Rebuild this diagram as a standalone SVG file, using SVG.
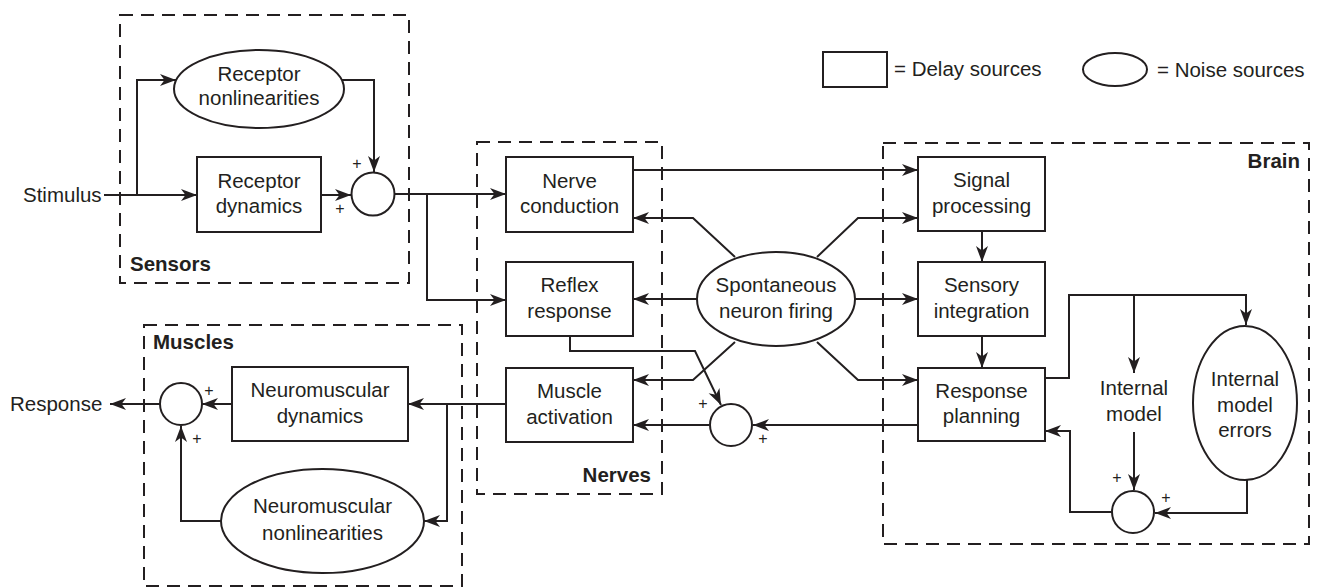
<svg xmlns="http://www.w3.org/2000/svg" width="1319" height="588" viewBox="0 0 1319 588">
<style>
.bg{fill:#ffffff}
.n{fill:#ffffff;stroke:#231f20;stroke-width:2}
.grp{fill:none;stroke:#231f20;stroke-width:2;stroke-dasharray:13 8}
.c{fill:none;stroke:#231f20;stroke-width:2}
.a{marker-end:url(#arr)}
text{font-family:"Liberation Sans",Arial,sans-serif;fill:#231f20}
.t{font-size:20.5px;text-anchor:middle}
.l{font-size:20.5px}
.b{font-size:20.5px;font-weight:bold}
.p{font-size:16px;text-anchor:middle}
</style>
<defs>
<marker id="arr" markerUnits="userSpaceOnUse" markerWidth="18" markerHeight="13" refX="16" refY="6" orient="auto">
<path d="M0,0 L16,6 L0,12 L4.5,6 Z" fill="#231f20"/>
</marker>
</defs>
<rect class="bg" x="0" y="0" width="1319" height="588"/>

<g id="groups">
<rect class="grp" x="120" y="15" width="289" height="268"/>
<rect class="grp" x="477" y="142" width="185" height="352"/>
<rect class="grp" x="144" y="325" width="318" height="261"/>
<rect class="grp" x="883" y="143" width="426" height="401"/>
<text class="b" x="130" y="271">Sensors</text>
<text class="b" x="651" y="482" text-anchor="end">Nerves</text>
<text class="b" x="153" y="349">Muscles</text>
<text class="b" x="1300" y="168" text-anchor="end">Brain</text>
</g>

<g id="legend">
<rect class="n" x="823" y="52" width="64" height="35"/>
<text class="l" x="894" y="76">= Delay sources</text>
<ellipse class="n" cx="1115" cy="69.5" rx="32" ry="16.5"/>
<text class="l" x="1157" y="77">= Noise sources</text>
</g>

<g id="connectors">
<path class="c a" d="M104,195 H197"/>
<path class="c a" d="M137,195 V80 H176"/>
<path class="c a" d="M321,195 H351"/>
<path class="c a" d="M342,80 H374 V172"/>
<path class="c a" d="M395,194 H506"/>
<path class="c a" d="M427,194 V300 H506"/>
<path class="c a" d="M633,170 H918"/>
<path class="c a" d="M735,257 L693,218 H633"/>
<path class="c a" d="M697,299 H633"/>
<path class="c a" d="M735,342 L693,380 H633"/>
<path class="c a" d="M817,257 L858,218 H918"/>
<path class="c a" d="M855,299 H918"/>
<path class="c a" d="M817,342 L858,380 H918"/>
<path class="c a" d="M570,336 V351 H695 L721,405"/>
<path class="c a" d="M918,425 H753"/>
<path class="c a" d="M709,425 H633"/>
<path class="c a" d="M506,404 H408"/>
<path class="c a" d="M447,404 V521 H424"/>
<path class="c a" d="M232,404 H202"/>
<path class="c a" d="M160,404 H110"/>
<path class="c a" d="M221,521 H181 V426"/>
<path class="c a" d="M982,231 V262"/>
<path class="c a" d="M982,336 V368"/>
<path class="c a" d="M1045,378 H1069 V295 H1246 V325"/>
<path class="c a" d="M1134,295 V373"/>
<path class="c a" d="M1134,432 V490"/>
<path class="c a" d="M1247,480 V513 H1155"/>
<path class="c a" d="M1112,512 H1070 V431 H1045"/>
</g>

<g id="stimulus"><text class="l" x="23" y="202">Stimulus</text></g>
<g id="response"><text class="l" x="10" y="411">Response</text></g>

<g id="receptor-nonlinearities">
<ellipse class="n" cx="259" cy="89" rx="85" ry="39"/>
<text class="t" x="259" y="81">Receptor</text>
<text class="t" x="259" y="105">nonlinearities</text>
</g>
<g id="receptor-dynamics">
<rect class="n" x="197" y="157" width="124" height="75"/>
<text class="t" x="259" y="188">Receptor</text>
<text class="t" x="259" y="213">dynamics</text>
</g>
<g id="sum-sensors">
<circle class="n" cx="373" cy="194" r="21.5"/>
<text class="p" x="357" y="169">+</text>
<text class="p" x="340" y="214">+</text>
</g>

<g id="nerve-conduction">
<rect class="n" x="506" y="157" width="127" height="75"/>
<text class="t" x="569.5" y="187.5">Nerve</text>
<text class="t" x="569.5" y="213">conduction</text>
</g>
<g id="reflex-response">
<rect class="n" x="506" y="262" width="127" height="74"/>
<text class="t" x="569.5" y="292">Reflex</text>
<text class="t" x="569.5" y="317.5">response</text>
</g>
<g id="muscle-activation">
<rect class="n" x="506" y="368" width="127" height="74"/>
<text class="t" x="569.5" y="398">Muscle</text>
<text class="t" x="569.5" y="423.5">activation</text>
</g>
<g id="spontaneous-neuron-firing">
<ellipse class="n" cx="776" cy="299" rx="79" ry="47"/>
<text class="t" x="776" y="292">Spontaneous</text>
<text class="t" x="776" y="318">neuron firing</text>
</g>
<g id="sum-nerves">
<circle class="n" cx="731" cy="425" r="21"/>
<text class="p" x="703" y="409">+</text>
<text class="p" x="763" y="444">+</text>
</g>

<g id="signal-processing">
<rect class="n" x="918" y="157" width="127" height="74"/>
<text class="t" x="981.5" y="187">Signal</text>
<text class="t" x="981.5" y="213">processing</text>
</g>
<g id="sensory-integration">
<rect class="n" x="918" y="262" width="127" height="74"/>
<text class="t" x="981.5" y="292">Sensory</text>
<text class="t" x="981.5" y="317.5">integration</text>
</g>
<g id="response-planning">
<rect class="n" x="918" y="368" width="127" height="73"/>
<text class="t" x="981.5" y="397.5">Response</text>
<text class="t" x="981.5" y="423">planning</text>
</g>
<g id="internal-model">
<text class="t" x="1134" y="395">Internal</text>
<text class="t" x="1134" y="421">model</text>
</g>
<g id="internal-model-errors">
<ellipse class="n" cx="1245" cy="403" rx="52" ry="77"/>
<text class="t" x="1245" y="386">Internal</text>
<text class="t" x="1245" y="411.5">model</text>
<text class="t" x="1245" y="437">errors</text>
</g>
<g id="sum-brain">
<circle class="n" cx="1133" cy="512" r="21"/>
<text class="p" x="1117" y="483">+</text>
<text class="p" x="1166" y="503">+</text>
</g>

<g id="neuromuscular-dynamics">
<rect class="n" x="232" y="367" width="176" height="74"/>
<text class="t" x="320" y="397">Neuromuscular</text>
<text class="t" x="320" y="423">dynamics</text>
</g>
<g id="sum-muscles">
<circle class="n" cx="181" cy="404" r="21"/>
<text class="p" x="209" y="396">+</text>
<text class="p" x="197" y="444">+</text>
</g>
<g id="neuromuscular-nonlinearities">
<ellipse class="n" cx="322.5" cy="521" rx="101.5" ry="52"/>
<text class="t" x="322.5" y="513">Neuromuscular</text>
<text class="t" x="322.5" y="540">nonlinearities</text>
</g>
</svg>
